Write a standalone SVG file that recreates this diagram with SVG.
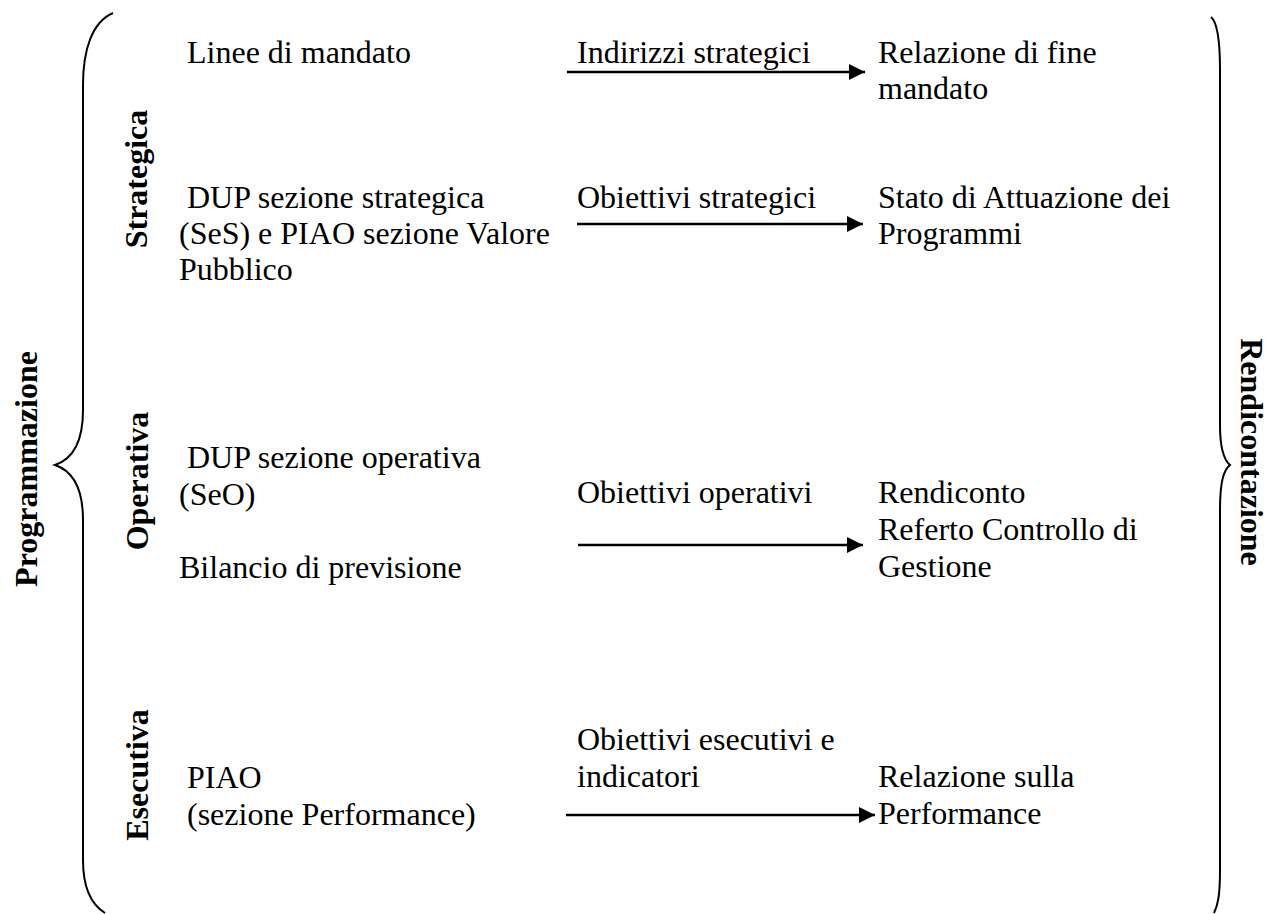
<svg xmlns="http://www.w3.org/2000/svg" width="1269" height="914" viewBox="0 0 1269 914">
<style>
.brace{fill:none;stroke:#000;stroke-width:2}
.arr{stroke:#000;stroke-width:2.5;fill:none;marker-end:url(#ah)}
</style>
<defs>
<marker id="ah" markerUnits="userSpaceOnUse" markerWidth="18" markerHeight="18" refX="16" refY="8" orient="auto">
<path d="M0,0 L16,8 L0,16 Z" fill="#000"/>
</marker>
</defs>
<rect width="1269" height="914" fill="#fff"/>
<g id="node-linee"><text font-family="Liberation Serif" font-size="32" x="187" y="63">Linee di mandato</text></g>
<g id="node-dup-ses"><text font-family="Liberation Serif" font-size="32" x="187" y="208">DUP sezione strategica</text><text font-family="Liberation Serif" font-size="32" x="179" y="244">(SeS) e PIAO sezione Valore</text><text font-family="Liberation Serif" font-size="32" x="179" y="280">Pubblico</text></g>
<g id="node-dup-seo"><text font-family="Liberation Serif" font-size="32" x="187" y="468">DUP sezione operativa</text><text font-family="Liberation Serif" font-size="32" x="179" y="505">(SeO)</text><text font-family="Liberation Serif" font-size="32" x="179" y="578">Bilancio di previsione</text></g>
<g id="node-piao"><text font-family="Liberation Serif" font-size="32" x="187" y="788">PIAO</text><text font-family="Liberation Serif" font-size="32" x="187" y="825">(sezione Performance)</text></g>
<g id="node-rel-fine"><text font-family="Liberation Serif" font-size="32" x="878" y="63">Relazione di fine</text><text font-family="Liberation Serif" font-size="32" x="878" y="99">mandato</text></g>
<g id="node-stato"><text font-family="Liberation Serif" font-size="32" x="878" y="208">Stato di Attuazione dei</text><text font-family="Liberation Serif" font-size="32" x="878" y="244">Programmi</text></g>
<g id="node-rendiconto"><text font-family="Liberation Serif" font-size="32" x="878" y="503">Rendiconto</text><text font-family="Liberation Serif" font-size="32" x="878" y="540">Referto Controllo di</text><text font-family="Liberation Serif" font-size="32" x="878" y="577">Gestione</text></g>
<g id="node-rel-perf"><text font-family="Liberation Serif" font-size="32" x="878" y="787">Relazione sulla</text><text font-family="Liberation Serif" font-size="32" x="878" y="824">Performance</text></g>
<g id="connectors">
<line class="arr" x1="567" y1="72" x2="865" y2="72"/>
<line class="arr" x1="577" y1="224" x2="863" y2="224"/>
<line class="arr" x1="578" y1="545" x2="863" y2="545"/>
<line class="arr" x1="566" y1="815" x2="875" y2="815"/>
<text font-family="Liberation Serif" font-size="32" x="577" y="63">Indirizzi strategici</text>
<text font-family="Liberation Serif" font-size="32" x="577" y="208">Obiettivi strategici</text>
<text font-family="Liberation Serif" font-size="32" x="577" y="503">Obiettivi operativi</text>
<text font-family="Liberation Serif" font-size="32" x="577" y="750">Obiettivi esecutivi e</text>
<text font-family="Liberation Serif" font-size="32" x="577" y="787">indicatori</text>
</g>
<g id="brace-left"><path class="brace" d="M113,13 C92,22 83,50 83,85 L83,410 C83,445 70,460 55,465 C70,470 83,485 83,520 L83,860 C83,890 92,905 105,913"/></g>
<g id="brace-right"><path class="brace" d="M1211,17 C1217,22 1220,40 1220,70 L1220,425 C1220,450 1224,460 1230,465 C1224,470 1220,480 1220,510 L1220,870 C1220,895 1218,905 1214,913"/></g>
<g id="label-programmazione"><text font-family="Liberation Serif" font-size="32" font-weight="bold" text-anchor="middle" transform="translate(37,469) rotate(-90)">Programmazione</text></g>
<g id="label-rendicontazione"><text font-family="Liberation Serif" font-size="32" font-weight="bold" text-anchor="middle" transform="translate(1241,452) rotate(90)">Rendicontazione</text></g>
<g id="label-strategica"><text font-family="Liberation Serif" font-size="32" font-weight="bold" text-anchor="middle" transform="translate(147,179) rotate(-90)">Strategica</text></g>
<g id="label-operativa"><text font-family="Liberation Serif" font-size="32" font-weight="bold" text-anchor="middle" transform="translate(148,481) rotate(-90)">Operativa</text></g>
<g id="label-esecutiva"><text font-family="Liberation Serif" font-size="32" font-weight="bold" text-anchor="middle" transform="translate(148,775) rotate(-90)">Esecutiva</text></g>
</svg>
